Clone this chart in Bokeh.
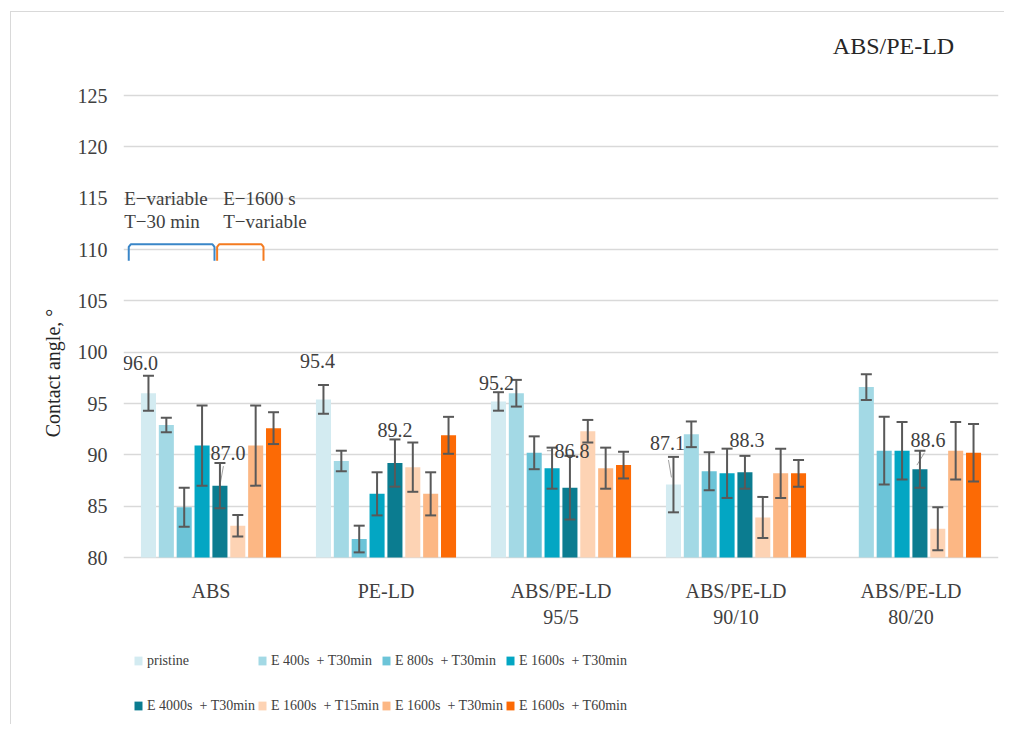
import math
from bokeh.plotting import figure
from bokeh.models import (ColumnDataSource, FixedTicker, Range1d, FactorRange, Whisker, TeeHead,
                          Label, Legend, LegendItem)
from bokeh.transform import dodge
from bokeh.embed import file_html
from bokeh.resources import INLINE

nan = float("nan")

# ---------------- data ----------------
groups = ["ABS", "PE-LD", "ABS/PE-LD\n95/5", "ABS/PE-LD\n90/10", "ABS/PE-LD\n80/20"]
series = ["pristine", "E 400s  + T30min", "E 800s  + T30min", "E 1600s  + T30min",
          "E 4000s  + T30min", "E 1600s  + T15min", "E 1600s  + T30min", "E 1600s  + T60min"]
colors = ["#d3ebf1", "#a3d9e5", "#6cc4d8", "#03a6c3", "#0b7c90",
          "#fdd3b4", "#fcb784", "#fc6a05"]

pristine = [96.0, 95.4, 95.2, 87.1, nan]
e400 = [92.9, 89.4, 96.0, 92.0, 96.6]
e800 = [84.9, 81.8, 90.2, 88.4, 90.4]
e1600 = [90.9, 86.2, 88.7, 88.2, 90.4]
e4000 = [87.0, 89.2, 86.8, 88.3, 88.6]
t15 = [83.1, 88.8, 92.3, 83.9, 82.8]
t30 = [90.9, 86.2, 88.7, 88.2, 90.4]
t60 = [92.6, 91.9, 89.0, 88.2, 90.2]

pristine_err = [1.7, 1.4, 0.9, 2.7, nan]
e400_err = [0.7, 1.0, 1.3, 1.25, 1.25]
e800_err = [1.9, 1.3, 1.6, 1.85, 3.3]
e1600_err = [3.9, 2.1, 2.0, 2.4, 2.8]
e4000_err = [2.2, 2.3, 3.1, 1.6, 1.8]
t15_err = [1.05, 2.4, 1.1, 2.0, 2.1]
t30_err = [3.9, 2.1, 2.0, 2.4, 2.8]
t60_err = [1.55, 1.8, 1.3, 1.3, 2.8]

values = [pristine, e400, e800, e1600, e4000, t15, t30, t60]
errors = [pristine_err, e400_err, e800_err, e1600_err, e4000_err, t15_err, t30_err, t60_err]

y_ticks = [80, 85, 90, 95, 100, 105, 110, 115, 120, 125]

# data labels: (group index, series index)
labelled = [(0, 0), (0, 4), (1, 0), (1, 4), (2, 0), (2, 4), (3, 0), (3, 4), (4, 4)]

# ---------------- styling / layout ----------------
FONT = "Liberation Serif"
TXT = "#404040"
GRID = "#d9d9d9"
ERR = "#595959"

# frame: page x 123..998, page y 20..725 ; value 125 at y=95, value 80 at y=557
PXU = (557 - 95) / 45.0          # pixels per y unit
y_top = 125 + (95 - 20) / PXU
y_bot = 80 - (725 - 557) / PXU

W, H = 994, 713
p = figure(x_range=FactorRange(*groups, range_padding=0, factor_padding=0),
           y_range=Range1d(y_bot, y_top),
           width=W, height=H, output_backend="svg", toolbar_location=None,
           min_border_left=112, min_border_right=7, min_border_top=8, min_border_bottom=0)
p.styles = {"border-left": "1px solid #d9d9d9", "border-top": "1px solid #d9d9d9",
            "margin-left": "10px", "margin-top": "11px"}
p.outline_line_color = None
p.xgrid.grid_line_color = None
p.ygrid.grid_line_color = GRID
p.ygrid.grid_line_width = 1.5
p.xaxis.visible = False

p.yaxis.ticker = FixedTicker(ticks=y_ticks)
ax = p.yaxis[0]
ax.axis_line_color = None
ax.major_tick_line_color = None
ax.minor_tick_line_color = None
ax.major_label_text_font = FONT
ax.major_label_text_color = TXT
ax.major_label_text_font_size = "20px"
ax.major_label_standoff = 10
ax.axis_label = "Contact angle, °"
ax.axis_label_text_font = FONT
ax.axis_label_text_font_style = "normal"
ax.axis_label_text_font_size = "20px"
ax.axis_label_text_color = "#262626"
ax.axis_label_standoff = 11

n = len(series)
slot = 0.1021
bar_w = 0.086
offsets = [(i - (n - 1) / 2) * slot for i in range(n)]

items = []
for i in range(n):
    g, v, lo, hi = [], [], [], []
    for j, grp in enumerate(groups):
        if not math.isnan(values[i][j]):
            g.append(grp)
            v.append(values[i][j])
            lo.append(values[i][j] - errors[i][j])
            hi.append(values[i][j] + errors[i][j])
    src = ColumnDataSource(dict(group=g, value=v, lower=lo, upper=hi))
    r = p.vbar(x=dodge("group", offsets[i], range=p.x_range), top="value", bottom=80,
               width=bar_w, source=src, fill_color=colors[i], line_color=None)
    items.append(LegendItem(label=series[i], renderers=[r]))
    wk = Whisker(source=src, base=dodge("group", offsets[i], range=p.x_range),
                 upper="upper", lower="lower", line_color=ERR, line_width=2,
                 upper_head=TeeHead(size=11, line_color=ERR, line_width=2),
                 lower_head=TeeHead(size=11, line_color=ERR, line_width=2),
                 level="annotation")
    p.add_layout(wk)

# category labels (below the bars)
for j, grp in enumerate(groups):
    for k, line in enumerate(grp.split("\n")):
        p.add_layout(Label(x=j + 0.5, y=80 - (33 + 26 * k) / PXU, text=line, text_font=FONT,
                           text_font_size="20px", text_color=TXT, text_align="center",
                           text_baseline="middle"))

# data labels
px = 1 / 175.0  # one pixel in x (category) units
label_pos = {(0, 0): (-8, 2.9), (0, 4): (8, 3.2), (1, 0): (-6, 3.7), (1, 4): (0, 3.2),
             (2, 0): (-2, 1.8), (2, 4): (2, 3.6), (3, 0): (-6, 4.1), (3, 4): (2, 3.1),
             (4, 4): (8, 2.8)}
for (gj, si) in labelled:
    xc = gj + 0.5 + offsets[si]
    dx, dy = label_pos[(gj, si)]
    val = values[si][gj]
    p.add_layout(Label(x=xc + dx * px, y=val + dy, text=f"{val:.1f}", text_font=FONT,
                       text_font_size="20px", text_color=TXT, text_align="center",
                       text_baseline="middle"))

# leader lines
leaders = [((0, 4), (3.5, 1.9), (0.5, 0.3)), ((3, 0), (-5, 2.4), (-2, 0.7)),
           ((4, 4), (4.5, 1.6), (-3, 0.4)), ((2, 4), (-23, 3.6), (-17, 3.6))]
for (gj, si), (x0, y0), (x1, y1) in leaders:
    xc = gj + 0.5 + offsets[si]
    val = values[si][gj]
    p.line(x=[xc + x0 * px, xc + x1 * px], y=[val + y0, val + y1], line_color="#a0a0a0",
           line_width=1)

# brackets + notes
def bracket(xa, xb, color):
    ytop, ybot, c = 110.5, 108.9, 0.25
    p.line(x=[xa, xa, xa + 2 * px, xb - 2 * px, xb, xb],
           y=[ybot, ytop - c, ytop, ytop, ytop - c, ybot], line_color=color, line_width=2)

bracket(0.03, 0.52, "#3a86c8")
bracket(0.535, 0.80, "#f47b20")
for x, y, t in [(0.004, 115.0, "E\u2212variable"), (0.004, 112.75, "T\u221230 min"),
                (0.57, 115.0, "E\u22121600 s"), (0.57, 112.75, "T\u2212variable")]:
    p.add_layout(Label(x=x, y=y, text=t, text_font=FONT, text_font_size="19px",
                       text_color=TXT, text_align="left", text_baseline="middle"))

p.add_layout(Label(x=4.4, y=125 + 50 / PXU, text="ABS/PE-LD", text_font=FONT,
                   text_font_size="24px", text_color="#262626", text_align="center",
                   text_baseline="middle"))

legend = Legend(items=items, ncols=4, orientation="horizontal", location=(10, -2),
                label_text_font=FONT, label_text_font_size="14px", label_text_color=TXT,
                glyph_width=10, glyph_height=11, label_standoff=4, spacing=2,
                label_height=43, margin=0, padding=0, border_line_color=None,
                background_fill_alpha=0)
p.add_layout(legend)

open("out.html", "w").write(file_html(p, INLINE))
